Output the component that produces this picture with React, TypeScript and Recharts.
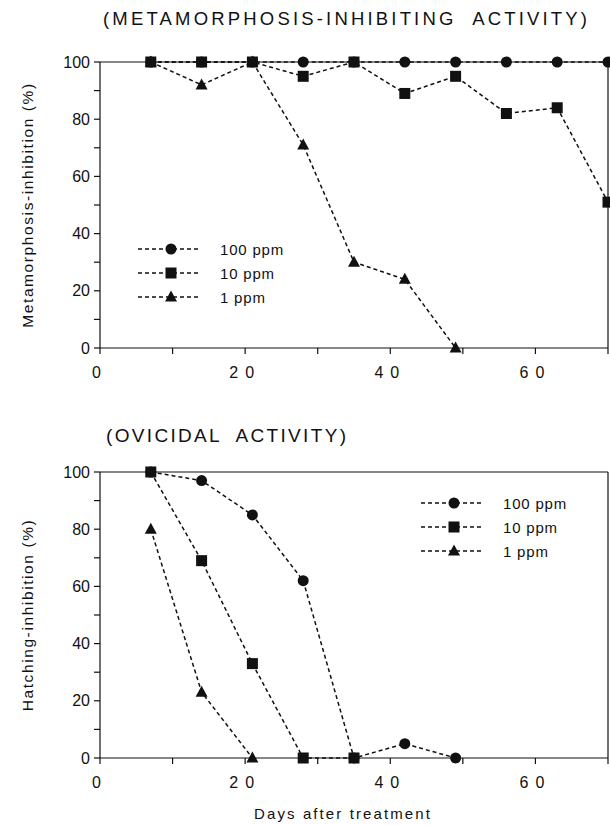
import { LineChart, Line, XAxis, YAxis, ReferenceLine, Legend } from "recharts";

// days after treatment (weekly readings)
const metaDays = [7, 14, 21, 28, 35, 42, 49, 56, 63, 70];
const meta100 = [100, 100, 100, 100, 100, 100, 100, 100, 100, 100];
const meta10 = [100, 100, 100, 95, 100, 89, 95, 82, 84, 51];
const meta1 = [100, 92, 100, 71, 30, 24, 0, null, null, null];

const ovDays = [7, 14, 21, 28, 35, 42, 49];
const ov100 = [100, 97, 85, 62, 0, 5, 0];
const ov10 = [100, 69, 33, 0, 0, null, null];
const ov1 = [80, 23, 0, null, null, null, null];

const xTicks = [0, 10, 20, 30, 40, 50, 60, 70];
const yTicks = [0, 10, 20, 30, 40, 50, 60, 70, 80, 90, 100];

const series = [
  { key: "p100", name: "100 ppm", shape: "circle" },
  { key: "p10", name: "10 ppm", shape: "square" },
  { key: "p1", name: "1 ppm", shape: "triangle" },
];

const metaData = metaDays.map((d, i) => ({ day: d, p100: meta100[i], p10: meta10[i], p1: meta1[i] }));
const ovData = ovDays.map((d, i) => ({ day: d, p100: ov100[i], p10: ov10[i], p1: ov1[i] }));

const FONT = "'Liberation Sans', Arial, Helvetica, sans-serif";
const INK = "#111";

function Marker({ cx, cy, shape }: any) {
  if (cx == null || cy == null || isNaN(cy)) return null;
  if (shape === "circle") return <circle cx={cx} cy={cy} r={5.5} fill={INK} />;
  if (shape === "square") return <rect x={cx - 5.5} y={cy - 5.5} width={11} height={11} fill={INK} />;
  return <path d={`M${cx},${cy - 6.5}L${cx + 6},${cy + 4.5}L${cx - 6},${cy + 4.5}Z`} fill={INK} />;
}

function XTick({ x, y, payload }: any) {
  const v = payload.value;
  const label = v % 20 === 0 && v < 70 ? String(v) : "";
  return (
    <text x={x} y={y} dy="0.71em" textAnchor="middle" fill={INK} fontSize={16} letterSpacing={7} fontFamily={FONT}>
      {label}
    </text>
  );
}

function LegendBox({ payload }: any) {
  // keep the plotted order (100, 10, 1 ppm) instead of the sorted one
  const entries = series
    .map((s) => (payload || []).find((e: any) => e.dataKey === s.key))
    .filter(Boolean);
  return (
    <div style={{ fontFamily: FONT }}>
      {entries.map((entry: any) => {
        const s = series.find((x) => x.key === entry.dataKey);
        return (
          <div key={entry.dataKey} style={{ display: "flex", alignItems: "center", height: 24 }}>
            <svg width={62} height={16}>
              <line x1={0} y1={8} x2={60} y2={8} stroke={INK} strokeWidth={1.5} strokeDasharray="4 3" />
              <Marker cx={33} cy={8} shape={s?.shape} />
            </svg>
            <span style={{ marginLeft: 20, fontSize: 15, letterSpacing: 0.8, color: INK }}>{entry.value}</span>
          </div>
        );
      })}
    </div>
  );
}

function Panel({ data, yLabel, legendPos, height, xLabel }: any) {
  return (
    <LineChart width={610} height={height} data={data} margin={{ top: 62, right: 2, left: 0, bottom: height - 378 }}>
      <XAxis
        dataKey="day"
        type="number"
        domain={[0, 70]}
        ticks={xTicks}
        interval={0}
        tick={<XTick />}
        tickSize={6}
        tickMargin={13}
        stroke={INK}
        strokeWidth={1.2}
        height={30}
        label={xLabel ? { value: xLabel, position: "bottom", offset: 20, dx: -11, fill: INK, fontSize: 15, letterSpacing: 2.1, fontFamily: FONT } : undefined}
      />
      <YAxis
        type="number"
        domain={[0, 100]}
        ticks={yTicks}
        interval={0}
        width={100}
        tickFormatter={(v: number) => (v % 20 === 0 ? String(v) : "")}
        tick={{ fill: INK, fontSize: 16, fontFamily: FONT }}
        tickSize={6}
        tickMargin={4}
        stroke={INK}
        strokeWidth={1.2}
        label={{ value: yLabel, angle: -90, position: "center", dx: -23, fill: INK, fontSize: 15.5, letterSpacing: 1.6, fontFamily: FONT }}
      />
      <ReferenceLine y={100} stroke={INK} strokeWidth={1.2} />
      <ReferenceLine x={70} stroke={INK} strokeWidth={1.2} />
      <Legend
        layout="vertical"
        align="center"
        verticalAlign="middle"
        content={<LegendBox />}
        wrapperStyle={{ position: "absolute", left: legendPos.left, top: legendPos.top, width: 200, height: 72 }}
      />
      {series.map((s) => (
        <Line
          key={s.key}
          type="linear"
          dataKey={s.key}
          name={s.name}
          stroke={INK}
          strokeWidth={1.5}
          strokeDasharray="4 3"
          isAnimationActive={false}
          connectNulls={false}
          dot={(p: any) => <Marker key={p.key ?? `${s.key}-${p.index}`} cx={p.cx} cy={p.cy} shape={s.shape} />}
          activeDot={false}
        />
      ))}
    </LineChart>
  );
}

export default function App() {
  return (
    <div style={{ position: "absolute", left: 0, top: 0, width: 610, height: 825, background: "#fff", fontFamily: FONT }}>
      <svg width={610} height={825} style={{ position: "absolute", left: 0, top: 0 }}>
        <text x={103} y={25} fontSize={18.5} fill={INK} fontFamily={FONT} textLength={484} lengthAdjust="spacing" style={{ whiteSpace: "pre" }}>
          (METAMORPHOSIS-INHIBITING  ACTIVITY)
        </text>
        <text x={106} y={442} fontSize={19} fill={INK} fontFamily={FONT} textLength={240} lengthAdjust="spacing" style={{ whiteSpace: "pre" }}>
          (OVICIDAL  ACTIVITY)
        </text>
      </svg>
      <div style={{ position: "absolute", left: 0, top: 0 }}>
        <Panel data={metaData} yLabel="Metamorphosis-inhibition (%)" legendPos={{ left: 138, top: 237 }} height={400} />
      </div>
      <div style={{ position: "absolute", left: 0, top: 410 }}>
        <Panel data={ovData} yLabel="Hatching-inhibition (%)" legendPos={{ left: 421, top: 81 }} height={415} xLabel="Days after treatment" />
      </div>
    </div>
  );
}
